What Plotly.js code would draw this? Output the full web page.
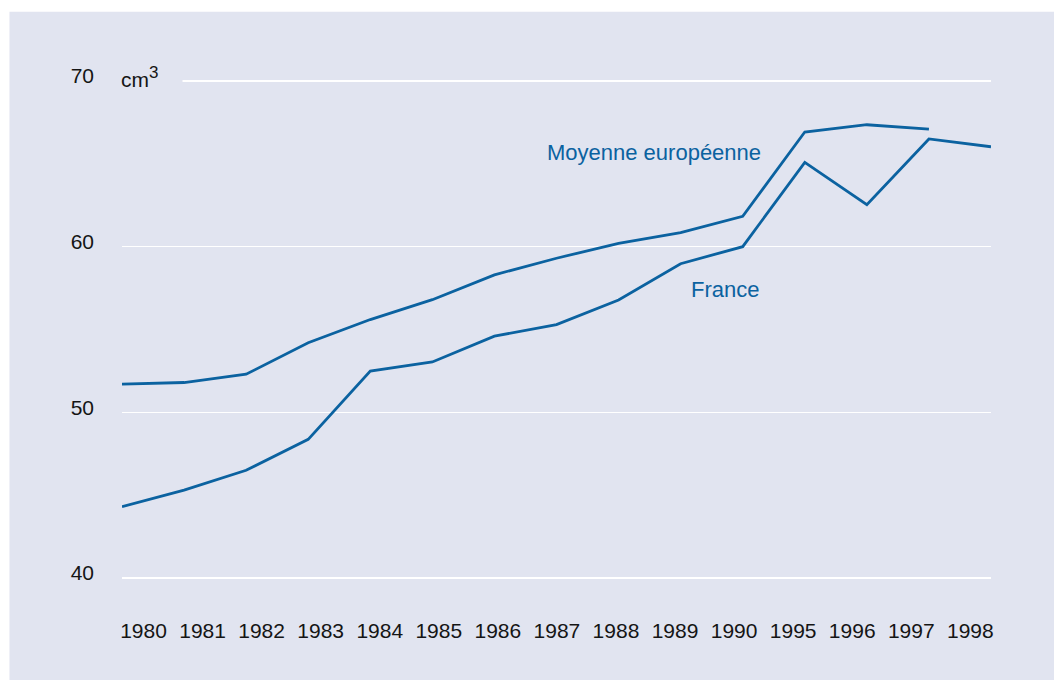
<!DOCTYPE html>
<html>
<head>
<meta charset="utf-8">
<script src="https://cdn.plot.ly/plotly-3.0.1.min.js"></script>
<style>html,body{margin:0;padding:0;background:#fff;}#chart{width:1054px;height:680px;}</style>
</head>
<body>
<div id="chart"></div>
<script>
// Data
const years = ["1980","1981","1982","1983","1984","1985","1986","1987","1988","1989","1990","1995","1996","1997","1998"];
const europe = [51.7, 51.8, 52.3, 54.2, 55.6, 56.8, 58.3, 59.3, 60.2, 60.85, 61.83, 66.92, 67.36, 67.1, null];
const france = [44.3, 45.3, 46.5, 48.37, 52.49, 53.04, 54.6, 55.3, 56.78, 58.97, 60.0, 65.09, 62.53, 66.5, 66.03];
const yTicks = [40, 50, 60, 70];
const unitLabel = "cm<sup><span style=\"font-size:17px\">3</span></sup>";
const europeLabel = "Moyenne européenne";
const franceLabel = "France";

const bg = "#e1e4f0";
const lineColor = "#0b62a0";
const textColor = "#151515";
const idx = years.map((_, i) => i);

const traces = [
  {x: idx, y: europe, type: "scatter", mode: "lines", line: {color: lineColor, width: 2.8}, hoverinfo: "skip", xaxis: "x", yaxis: "y"},
  {x: idx, y: france, type: "scatter", mode: "lines", line: {color: lineColor, width: 2.8}, hoverinfo: "skip", xaxis: "x", yaxis: "y"},
  {x: years, y: france, type: "scatter", mode: "none", hoverinfo: "skip", xaxis: "x2", yaxis: "y"}
];

const layout = {
  width: 1054, height: 680,
  paper_bgcolor: "#ffffff",
  plot_bgcolor: bg,
  showlegend: false,
  margin: {l: 122, r: 63, t: 79, b: 100, pad: 0},
  font: {family: "Liberation Sans, Arial, sans-serif", color: textColor, size: 21},
  xaxis: {range: [0, 14], showgrid: false, zeroline: false, showticklabels: false, ticks: "", showline: false, fixedrange: true},
  xaxis2: {type: "category", overlaying: "x", side: "bottom", categoryorder: "array", categoryarray: years,
           range: [-0.364, 14.35], showgrid: false, zeroline: false, ticks: "", showline: false,
           tickfont: {size: 21, color: textColor}, ticklabelstandoff: 36},
  yaxis: {range: [39.88, 70.12], tickvals: yTicks, ticktext: yTicks.map(String), showgrid: true, gridcolor: "#ffffff", gridwidth: 1.5,
          zeroline: false, ticks: "", showline: false, tickfont: {size: 21, color: textColor},
          ticklabelstandoff: 27, ticklabelshift: -5},
  shapes: [
    {type: "rect", xref: "paper", yref: "paper", x0: -0.1295, x1: 1.08, y0: -0.25, y1: 1.134, fillcolor: bg, line: {width: 0}, layer: "below"}
  ],
  annotations: [
    {xref: "paper", yref: "y", x: -0.0035, y: 70, text: unitLabel, showarrow: false, xanchor: "left", yanchor: "middle",
     yshift: 4, width: 60, align: "left", bgcolor: bg, font: {size: 21, color: textColor}},
    {xref: "x", yref: "y", x: 8.57, y: 65.7, text: europeLabel, showarrow: false, xanchor: "center", yanchor: "middle",
     font: {size: 22, color: lineColor}},
    {xref: "x", yref: "y", x: 9.71, y: 57.4, text: franceLabel, showarrow: false, xanchor: "center", yanchor: "middle",
     font: {size: 22, color: lineColor}}
  ]
};

Plotly.newPlot("chart", traces, layout, {staticPlot: true, displayModeBar: false});
</script>
</body>
</html>
